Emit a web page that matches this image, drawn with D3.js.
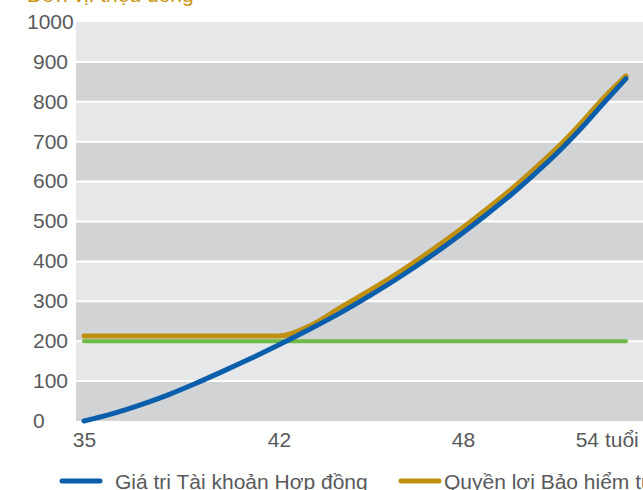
<!DOCTYPE html>
<html>
<head>
<meta charset="utf-8">
<script src="https://cdn.jsdelivr.net/npm/d3@7"></script>
<style>
  html, body { margin: 0; padding: 0; background: #fff; }
  svg { display: block; font-family: "Liberation Sans", Arial, sans-serif; }
</style>
</head>
<body>
<div id="chart"></div>
<script>
// ages (x) and values in million VND
const ages = [35, 36, 37, 38, 39, 40, 41, 42, 43, 44, 45, 46, 47, 48, 49, 50, 51, 52, 53, 54, 55];
const contractValue = [0, 18, 40, 65, 94, 125, 157, 191, 230, 271, 316, 364, 416, 472, 517, 564, 615, 669, 729, 794, 858];
const deathBenefit = [213, 213, 213, 213, 213, 213, 213, 213, 238, 284, 329, 377, 429, 485, 530, 577, 628, 682, 742, 807, 865];
const guaranteedBenefit = [200, 200, 200, 200, 200, 200, 200, 200, 200, 200, 200, 200, 200, 200, 200, 200, 200, 200, 200, 200, 200];
const xTicks = [35, 42, 48, 54];
const yTicks = [0, 100, 200, 300, 400, 500, 600, 700, 800, 900, 1000];
const unitLabel = "Đơn vị: triệu đồng";
const seriesNames = ["Giá trị Tài khoản Hợp đồng", "Quyền lợi Bảo hiểm tử vong"];

const width = 643;
const height = 490;
const margin = { top: 22, left: 76, bottom: 69 };

const textColor = "#58595b";
const blue = "#0b5eab";
const gold = "#bf900f";
const green = "#6cbb46";

const svg = d3.select("#chart")
  .append("svg")
  .attr("width", width)
  .attr("height", height);

// x axis labels are not evenly spaced in the original, so use a piecewise scale
const xScale = d3.scaleLinear()
  .domain([35, 42, 48, 55])
  .range([84, 279, 463, 626]);

const yScale = d3.scaleLinear()
  .domain([0, 1000])
  .range([height - margin.bottom, margin.top]);

// alternating bands
const bands = yTicks.slice(0, -1).map((t, i) => [t, yTicks[i + 1]]);
svg.append("g")
  .selectAll("rect")
  .data(bands)
  .enter()
  .append("rect")
  .attr("x", margin.left)
  .attr("width", width - margin.left + 20)
  .attr("y", d => yScale(d[1]))
  .attr("height", d => yScale(d[0]) - yScale(d[1]))
  .attr("fill", (d, i) => i % 2 === 0 ? "#d2d3d5" : "#e6e7e8");

// white gridlines between bands
svg.append("g")
  .selectAll("line")
  .data(yTicks.slice(1, -1))
  .enter()
  .append("line")
  .attr("x1", margin.left)
  .attr("x2", width + 20)
  .attr("y1", d => yScale(d))
  .attr("y2", d => yScale(d))
  .attr("stroke", "#fff")
  .attr("stroke-width", 2);

// y axis
const yAxis = svg.append("g")
  .call(d3.axisLeft(yScale).tickValues(yTicks).tickSize(0).tickFormat(d3.format("d")));
yAxis.select(".domain").remove();
yAxis.selectAll("text")
  .attr("x", d => d === 1000 ? 27 : 33)
  .attr("dy", "0.3em")
  .attr("text-anchor", "start")
  .attr("fill", textColor)
  .style("font-size", "21px");

// x axis
const xAxis = svg.append("g")
  .attr("transform", `translate(0, ${yScale(0)})`)
  .call(d3.axisBottom(xScale).tickValues(xTicks).tickSize(0)
    .tickFormat(d => d === 54 ? "54 tuổi" : d));
xAxis.select(".domain").remove();
xAxis.selectAll("text")
  .attr("y", 26)
  .attr("dy", 0)
  .attr("dx", d => d === 54 ? 4 : 0)
  .attr("fill", textColor)
  .style("font-size", "21px");

// unit label (cut off at top in the original)
svg.append("text")
  .attr("x", 27)
  .attr("y", 2)
  .attr("fill", "#c8960f")
  .style("font-size", "21px")
  .text(unitLabel);

// lines
const lineGen = d3.line()
  .x((d, i) => xScale(ages[i]))
  .y(d => yScale(d))
  .curve(d3.curveMonotoneX);

const series = [
  { values: guaranteedBenefit, color: green, w: 4 },
  { values: deathBenefit, color: gold, w: 5 },
  { values: contractValue, color: blue, w: 5 }
];

svg.append("g")
  .selectAll("path")
  .data(series)
  .enter()
  .append("path")
  .attr("d", d => lineGen(d.values))
  .attr("fill", "none")
  .attr("stroke", d => d.color)
  .attr("stroke-width", d => d.w)
  .attr("stroke-linecap", "round")
  .attr("stroke-linejoin", "round");

// legend
const legendItems = [
  { name: seriesNames[0], color: blue, x: 62 },
  { name: seriesNames[1], color: gold, x: 401 }
];
const legend = svg.append("g")
  .selectAll("g")
  .data(legendItems)
  .enter()
  .append("g")
  .attr("transform", d => `translate(${d.x}, 481)`);
legend.append("line")
  .attr("x1", 0)
  .attr("x2", 38)
  .attr("stroke", d => d.color)
  .attr("stroke-width", 5)
  .attr("stroke-linecap", "round");
legend.append("text")
  .attr("x", (d, i) => i === 0 ? 53 : 43)
  .attr("y", 8)
  .attr("fill", textColor)
  .style("font-size", "21px")
  .text(d => d.name);
</script>
</body>
</html>
